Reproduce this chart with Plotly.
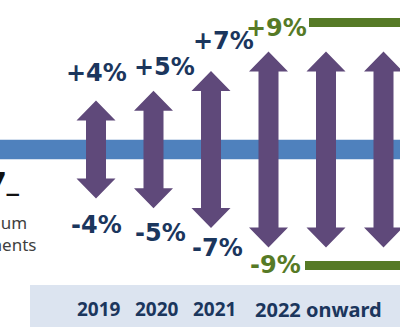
import plotly.graph_objects as go

# Payment adjustment range per performance year (± percent)
years = ["2019", "2020", "2021", "2022", "2023", "2024"]
adjustment = [4, 5, 7, 9, 9, 9]
year_labels = ["2019", "2020", "2021"]
onward_label = "2022 onward"
side_title = "2017_"
side_lines = ["maximum", "adjustments"]

W, H = 400, 327
PURPLE = "#5F497A"
BAND = "#4F81BD"
NAVY = "#1B365D"
GREEN = "#567A26"
PALE = "#DCE4F0"

# axis scaling: one category step and one percent in pixels
X_STEP = 57.5
Y_STEP = 9.8
X0_PX = 96.0
Y0_PX = 149.5
x_range = [-X0_PX / X_STEP, (W - X0_PX) / X_STEP]
y_range = [(Y0_PX - H) / Y_STEP, Y0_PX / Y_STEP]

BAND_HALF = 1.0              # band half-height in axis units
SHAFT = 10 / X_STEP          # shaft half-width
HEAD = 19.5 / X_STEP         # head half-width
HEAD_H = 20 / Y_STEP         # head length


def px_x(p):
    return p / W


def px_y(p):
    return 1 - p / H


fig = go.Figure()

# horizontal band through the middle
fig.add_shape(type="rect", xref="paper", yref="y", x0=0, x1=1,
              y0=-BAND_HALF, y1=BAND_HALF, fillcolor=BAND, line_width=0,
              layer="below")

# double-headed arrows, tips at band edge + adjustment
for i, v in enumerate(adjustment):
    tip = BAND_HALF + v
    base = tip - HEAD_H
    xs = [i - SHAFT, i - HEAD, i, i + HEAD, i + SHAFT,
          i + SHAFT, i + HEAD, i, i - HEAD, i - SHAFT, i - SHAFT]
    ys = [base, base, tip, base, base,
          -base, -base, -tip, -base, -base, base]
    fig.add_trace(go.Scatter(x=xs, y=ys, mode="lines", fill="toself",
                             fillcolor=PURPLE, line=dict(width=0),
                             hoverinfo="skip", showlegend=False))

# value labels (one per distinct year); nudges in pixels
plus_dx = [0, 11, 12, 8]
plus_dy = [28, 24, 30, 24]
minus_dx = [0, 7, 6, 7]
minus_dy = [26, 25, 20, 17]
for i in range(4):
    v = adjustment[i]
    col = GREEN if i == 3 else NAVY
    font = dict(family="DejaVu Sans", size=24, color=col, weight="bold")
    fig.add_annotation(x=i, y=BAND_HALF + v, text=f"+{v}%", showarrow=False,
                       xanchor="center", yanchor="middle",
                       xshift=plus_dx[i], yshift=plus_dy[i], font=font)
    fig.add_annotation(x=i, y=-(BAND_HALF + v), text=f"-{v}%", showarrow=False,
                       xanchor="center", yanchor="middle",
                       xshift=minus_dx[i], yshift=-minus_dy[i], font=font)

# cap lines at the ±9% level
fig.add_shape(type="rect", xref="paper", yref="paper",
              x0=px_x(309), x1=1, y0=px_y(27), y1=px_y(18),
              fillcolor=GREEN, line_width=0)
fig.add_shape(type="rect", xref="paper", yref="paper",
              x0=px_x(305), x1=1, y0=px_y(270), y1=px_y(261),
              fillcolor=GREEN, line_width=0)

# year strip along the bottom
fig.add_shape(type="rect", xref="paper", yref="paper",
              x0=px_x(30), x1=1, y0=0, y1=px_y(285),
              fillcolor=PALE, line_width=0, layer="below")
year_font = dict(family="Noto Sans", size=19, color=NAVY, weight="bold")
for i, lab in enumerate(year_labels):
    fig.add_annotation(x=i, y=px_y(309), yref="paper", text=lab,
                       showarrow=False, xanchor="center", yanchor="middle",
                       xshift=3, font=year_font)
fig.add_annotation(x=3, y=px_y(309), yref="paper", text=onward_label,
                   showarrow=False, xanchor="left", yanchor="middle",
                   xshift=-16, font=dict(family="Noto Sans", size=20,
                                         color=NAVY, weight="bold"))

# side caption, running off the left edge
fig.add_annotation(xref="paper", yref="paper", x=px_x(22), y=px_y(181),
                   text=side_title, showarrow=False, xanchor="right",
                   yanchor="middle",
                   font=dict(family="DejaVu Sans", size=25, color="#111111",
                             weight="bold"))
side_font = dict(family="Noto Sans", size=17, color="#3F3F3F")
fig.add_annotation(xref="paper", yref="paper", x=px_x(29), y=px_y(223),
                   text=side_lines[0], showarrow=False, xanchor="right",
                   yanchor="middle", font=side_font)
fig.add_annotation(xref="paper", yref="paper", x=px_x(38), y=px_y(244),
                   text=side_lines[1], showarrow=False, xanchor="right",
                   yanchor="middle", font=side_font)

fig.update_layout(
    width=W, height=H,
    margin=dict(l=0, r=0, t=0, b=0),
    paper_bgcolor="white", plot_bgcolor="white",
    xaxis=dict(range=x_range, visible=False, fixedrange=True),
    yaxis=dict(range=y_range, visible=False, fixedrange=True),
    showlegend=False,
)

fig.write_html("out.html")
